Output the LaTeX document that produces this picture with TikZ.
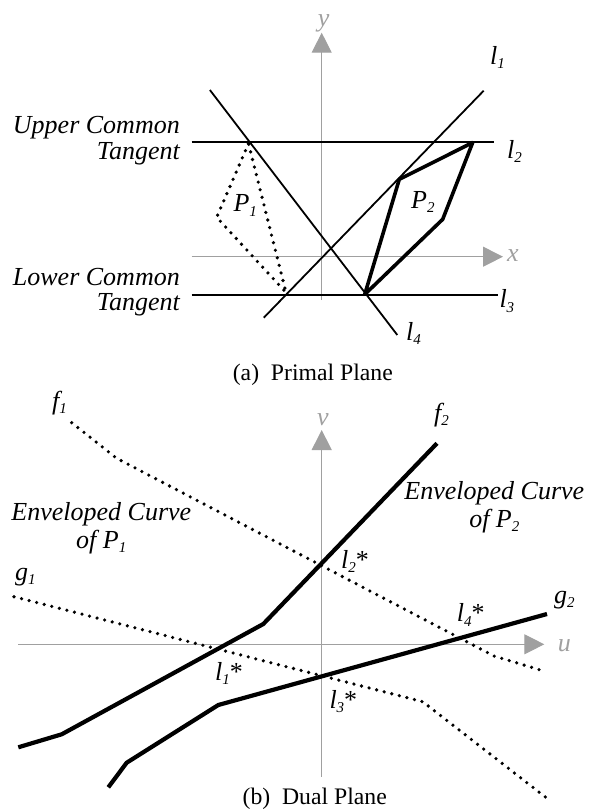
\documentclass[tikz,border=0pt]{standalone}
\usepackage{fontspec}
\setmainfont{Liberation Serif}
\usetikzlibrary{arrows.meta}
\definecolor{axisgray}{RGB}{160,160,160}
\newcommand{\sbs}[1]{\raisebox{-4.5pt}{\fontsize{15}{15}\selectfont\textit{#1}}}
\begin{document}
\begin{tikzpicture}[x=1pt,y=-1pt,
  lbl/.style={font=\fontsize{26}{30}\selectfont\itshape, inner sep=0pt},
  axlbl/.style={font=\fontsize{26}{30}\selectfont\itshape, inner sep=0pt, text=axisgray},
  captiontext/.style={font=\fontsize{23.7}{28}\selectfont, inner sep=0pt, anchor=base},
  axisline/.style={draw=axisgray, line width=1pt, -{Triangle[length=20pt,width=20pt,fill=axisgray]}},
  thinline/.style={line width=1.8pt},
  thickline/.style={line width=4.2pt, line join=round},
  polyline/.style={line width=3.6pt, line join=round},
  dotline/.style={line width=3.6pt, dash pattern=on 0pt off 7.8pt, line cap=round, line join=round}]
\useasboundingbox (0,0) rectangle (591,809);

% ---------- (a) primal plane ----------
\coordinate (yb) at (321.7,300);   \coordinate (yt) at (321.7,32.7);
\coordinate (xb) at (191.7,256.7); \coordinate (xt) at (503,256.7);
\draw[axisline] (yb) -- (yt);
\draw[axisline] (xb) -- (xt);
\node[axlbl, anchor=base west] (ylab) at (317.7,26.7) {y};
\node[axlbl, anchor=base west] (xlab) at (507,261.7) {x};

\coordinate (l1a) at (263.8,317.7); \coordinate (l1b) at (483.7,90.7);
\coordinate (l4a) at (209.9,90);    \coordinate (l4b) at (397.3,335);
\coordinate (l2a) at (191.7,141.7); \coordinate (l2b) at (493.7,141.7);
\coordinate (l3a) at (191.7,295);   \coordinate (l3b) at (498.3,295);
\draw[thinline] (l1a) -- (l1b);
\draw[thinline] (l4a) -- (l4b);
\draw[thinline] (l2a) -- (l2b);
\draw[thinline] (l3a) -- (l3b);

\coordinate (p1a) at (248.5,143.5);
\coordinate (p1b) at (216.7,217.3);
\coordinate (p1c) at (286,292.5);
\draw[dotline] (p1a) -- (p1b) -- (p1c) -- cycle;

\coordinate (p2a) at (472.7,142.5);
\coordinate (p2b) at (399.3,179.3);
\coordinate (p2c) at (364.7,294.5);
\coordinate (p2d) at (442.7,219.3);
\draw[polyline] (p2a) -- (p2b) -- (p2c) -- (p2d) -- cycle;

\node[lbl, anchor=base west] (L1) at (490,64) {l\sbs{1}};
\node[lbl, anchor=base west] (L2) at (507,158.3) {l\sbs{2}};
\node[lbl, anchor=base west] (L3) at (499.3,307.7) {l\sbs{3}};
\node[lbl, anchor=base west] (L4) at (406,340) {l\sbs{4}};
\node[lbl, anchor=base west] (P1) at (233.3,211.7) {P\sbs{1}};
\node[lbl, anchor=base west] (P2) at (411,208.3) {P\sbs{2}};

\node[lbl, anchor=base east] (uct1) at (180,133.3) {Upper Common};
\node[lbl, anchor=base east] (uct2) at (180,159.3) {Tangent};
\node[lbl, anchor=base east] (lct1) at (180,285) {Lower Common};
\node[lbl, anchor=base east] (lct2) at (180,310.7) {Tangent};

\node[captiontext] (capa) at (312.8,380.7) {(a)\hspace{0.5em}Primal Plane};

% ---------- (b) dual plane ----------
\coordinate (vb) at (321.7,776.7); \coordinate (vt) at (321.7,430);
\coordinate (ub) at (18.3,644.3);  \coordinate (ut) at (544.3,644.3);
\draw[axisline] (vb) -- (vt);
\draw[axisline] (ub) -- (ut);
\node[axlbl, anchor=base west] (vlab) at (317,425) {v};
\node[axlbl, anchor=base west] (ulab) at (557.7,651.7) {u};

\coordinate (f1a) at (71.7,422.7);
\coordinate (f1b) at (116.7,458.3);
\coordinate (f1c) at (494,656);
\coordinate (f1d) at (546,671.7);
\draw[dotline] (f1a) -- (f1b) -- (f1c) -- (f1d);

\coordinate (g1a) at (14,596.7);
\coordinate (g1b) at (422.7,701.7);
\coordinate (g1c) at (547,798.3);
\draw[dotline] (g1a) -- (g1b) -- (g1c);

\coordinate (f2a) at (18.3,747.3);
\coordinate (f2b) at (61.7,734.3);
\coordinate (f2c) at (263.3,624);
\coordinate (f2d) at (437,443.3);
\draw[thickline] (f2a) -- (f2b) -- (f2c) -- (f2d);

\coordinate (g2a) at (108.3,787.3);
\coordinate (g2b) at (126.7,762.7);
\coordinate (g2c) at (218.3,705);
\coordinate (g2d) at (547,614);
\draw[thickline] (g2a) -- (g2b) -- (g2c) -- (g2d);

\node[lbl, anchor=base west] (F1) at (52,409) {f\sbs{1}};
\node[lbl, anchor=base west] (F2) at (434,421) {f\sbs{2}};
\node[lbl, anchor=base west] (G1) at (15,580) {g\sbs{1}};
\node[lbl, anchor=base west] (G2) at (554,603) {g\sbs{2}};
\node[lbl, anchor=base west] (S1) at (215,680) {l\sbs{1}\upshape*};
\node[lbl, anchor=base west] (S2) at (341,568) {l\sbs{2}\upshape*};
\node[lbl, anchor=base west] (S3) at (329.3,708.3) {l\sbs{3}\upshape*};
\node[lbl, anchor=base west] (S4) at (456.7,621.7) {l\sbs{4}\upshape*};

\node[lbl, anchor=base] (ec1) at (101.3,520.7) {Enveloped Curve};
\node[lbl, anchor=base] (ec2) at (101.3,548.3) {of P\sbs{1}};
\node[lbl, anchor=base] (ec3) at (494.3,499.3) {Enveloped Curve};
\node[lbl, anchor=base] (ec4) at (494.3,527.3) {of P\sbs{2}};

\node[captiontext] (capb) at (314.7,804) {(b)\hspace{0.5em}Dual Plane};
\end{tikzpicture}
\end{document}
